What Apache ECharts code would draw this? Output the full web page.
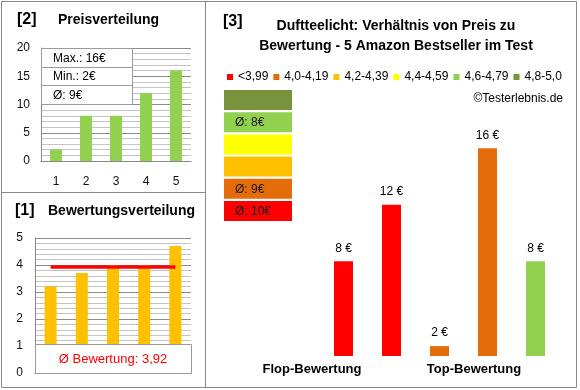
<!DOCTYPE html>
<html>
<head>
<meta charset="utf-8">
<script src="https://cdn.jsdelivr.net/npm/echarts@6/dist/echarts.min.js"></script>
<style>html,body{margin:0;padding:0;background:#fff}#c{width:580px;height:390px}</style>
</head>
<body>
<div id="c"></div>
<script>
// ---- data ----
const priceCategories = ['1', '2', '3', '4', '5'];
const priceValues = [2, 8, 8, 12, 16];
const priceTicks = [0, 5, 10, 15, 20];
const priceStats = ['Max.: 16€', 'Min.: 2€', 'Ø: 9€'];

const ratingCategories = ['1', '2', '3', '4', '5'];
const ratingValues = [3.2, 3.7, 4.0, 4.0, 4.7];
const ratingAvg = 3.92;
const ratingAvgLabel = 'Ø Bewertung: 3,92';

const classNames = ['<3,99', '4,0-4,19', '4,2-4,39', '4,4-4,59', '4,6-4,79', '4,8-5,0'];
const classColors = ['#FF0000', '#E46C0A', '#FFC000', '#FFFF00', '#92D050', '#77933C'];
const classAvgLabels = ['Ø: 10€', 'Ø: 9€', '', '', 'Ø: 8€', ''];

const groupLabels = ['Flop-Bewertung', 'Top-Bewertung'];
const slotCategories = ['F1', 'F2', 'F3', 'T1', 'T2', 'T3'];
const classSlotValues = [
  ['-', 8, 12, '-', '-', '-'],
  ['-', '-', '-', 2, 16, '-'],
  ['-', '-', '-', '-', '-', '-'],
  ['-', '-', '-', '-', '-', '-'],
  ['-', '-', '-', '-', '-', 8],
  ['-', '-', '-', '-', '-', '-']
];

const titleLines = ['Duftteelicht: Verhältnis von Preis zu', 'Bewertung - 5 Amazon Bestseller im Test'];
const copyright = '©Testerlebnis.de';

// ---- chart ----
const FONT = '"Liberation Sans", Arial, sans-serif';
const chart = echarts.init(document.getElementById('c'), null, {renderer: 'canvas'});

const graphics = [];
// panel borders
graphics.push({type: 'rect', z: 100, shape: {x: 1.5, y: 1.5, width: 575, height: 386}, style: {fill: 'none', stroke: '#888', lineWidth: 1}});
graphics.push({type: 'line', z: 100, shape: {x1: 205.5, y1: 1.5, x2: 205.5, y2: 387.5}, style: {stroke: '#888', lineWidth: 1}});
graphics.push({type: 'line', z: 100, shape: {x1: 1.5, y1: 192.5, x2: 205.5, y2: 192.5}, style: {stroke: '#888', lineWidth: 1}});

function txt(text, x, y, font, opts) {
  return Object.assign({type: 'text', z: 110, style: Object.assign({text: text, x: x, y: y, font: font, fill: '#000', textVerticalAlign: 'middle', textAlign: 'left'}, opts || {})});
}
graphics.push(txt('[2]', 17, 20, 'bold 16px ' + FONT));
graphics.push(txt('Preisverteilung', 58, 20, 'bold 14px ' + FONT));
graphics.push(txt('[1]', 15, 211, 'bold 16px ' + FONT));
graphics.push(txt('Bewertungsverteilung', 48, 211, 'bold 14px ' + FONT));
graphics.push(txt('[3]', 223, 22, 'bold 16px ' + FONT));
titleLines.forEach((t, i) => graphics.push(txt(t, 396, 26 + i * 20, 'bold 14px ' + FONT, {textAlign: 'center'})));
graphics.push(txt(copyright, 563, 99, '12px ' + FONT, {textAlign: 'right'}));

// price stats box
graphics.push({type: 'rect', z: 105, shape: {x: 41.5, y: 48.5, width: 91, height: 56}, style: {fill: '#fff', stroke: '#9a9a9a', lineWidth: 1}});
[67.5, 85.5].forEach(y => graphics.push({type: 'line', z: 106, shape: {x1: 41.5, y1: y, x2: 132.5, y2: y}, style: {stroke: '#9a9a9a', lineWidth: 1}}));
priceStats.forEach((s, i) => graphics.push(txt(s, 53, 58.5 + i * 18.5, '12px ' + FONT)));

// rating avg box
graphics.push({type: 'rect', z: 105, shape: {x: 35.5, y: 344.5, width: 156, height: 29}, style: {fill: '#fff', stroke: '#9a9a9a', lineWidth: 1}});
graphics.push(txt(ratingAvgLabel, 113, 359.5, '13px ' + FONT, {textAlign: 'center', fill: '#FF0000'}));

// class average boxes (top: best class)
for (let k = 0; k < classNames.length; k++) {
  const ci = classNames.length - 1 - k;
  const top = 90 + k * 22.2;
  graphics.push({type: 'rect', z: 105, shape: {x: 224, y: top, width: 68, height: 20}, style: {fill: classColors[ci]}});
  if (classAvgLabels[ci]) graphics.push(txt(classAvgLabels[ci], 235, top + 10.5, '12px ' + FONT, {fill: '#1a1a1a'}));
}

const classSeries = classNames.map((n, i) => ({
  name: n, type: 'bar', xAxisIndex: 2, yAxisIndex: 2, stack: 'main', barWidth: 19,
  data: classSlotValues[i], itemStyle: {color: classColors[i]},
  label: {show: true, position: 'top', distance: 7, formatter: '{c} €', fontFamily: FONT, fontSize: 12, color: '#000'}
}));

const option = {
  animation: false,
  textStyle: {fontFamily: FONT},
  legend: {
    data: classNames, left: 227, top: 71, padding: 0, itemWidth: 6, itemHeight: 6, itemGap: 5,
    icon: 'rect', textStyle: {fontFamily: FONT, fontSize: 12, color: '#000'}, selectedMode: false
  },
  grid: [
    {left: 41, top: 48, width: 150, height: 113},
    {left: 35, top: 238, width: 156, height: 135},
    {left: 271.5, top: 120, width: 288, height: 236},
    {left: 231, top: 120, width: 324, height: 236}
  ],
  xAxis: [
    {type: 'category', gridIndex: 0, data: priceCategories, axisLine: {lineStyle: {color: '#888'}}, axisTick: {show: false},
      axisLabel: {margin: 15, color: '#111', fontSize: 12, fontFamily: FONT}},
    {type: 'category', gridIndex: 1, data: ratingCategories, axisLine: {lineStyle: {color: '#888'}}, axisTick: {show: false}, axisLabel: {show: false}},
    {type: 'category', gridIndex: 2, data: slotCategories, show: false},
    {type: 'category', gridIndex: 3, data: groupLabels, axisLine: {show: false}, axisTick: {show: false},
      axisLabel: {margin: 7, color: '#000', fontSize: 13, fontWeight: 'bold', fontFamily: FONT}}
  ],
  yAxis: [
    {type: 'value', gridIndex: 0, min: priceTicks[0], max: priceTicks[priceTicks.length - 1], interval: priceTicks[1] - priceTicks[0],
      axisLine: {show: true, lineStyle: {color: '#888'}}, axisTick: {show: false},
      axisLabel: {margin: 11, color: '#111', fontSize: 12, fontFamily: FONT},
      splitLine: {lineStyle: {color: '#8c8c8c'}},
      minorTick: {show: false, splitNumber: 5}, minorSplitLine: {show: true, lineStyle: {color: '#c4c4c4'}}},
    {type: 'value', gridIndex: 1, min: 0, max: 5, interval: 1,
      axisLine: {show: true, lineStyle: {color: '#888'}}, axisTick: {show: false},
      axisLabel: {margin: 12, color: '#111', fontSize: 12, fontFamily: FONT},
      splitLine: {lineStyle: {color: '#8c8c8c'}},
      minorTick: {show: false, splitNumber: 5}, minorSplitLine: {show: true, lineStyle: {color: '#c4c4c4'}}},
    {type: 'value', gridIndex: 2, min: 1.3, max: 18, show: false, splitLine: {show: false}},
    {type: 'value', gridIndex: 3, show: false, splitLine: {show: false}}
  ],
  series: [
    {type: 'bar', xAxisIndex: 0, yAxisIndex: 0, data: priceValues, barWidth: 12, itemStyle: {color: '#92D050'}},
    {type: 'bar', xAxisIndex: 1, yAxisIndex: 1, data: ratingValues, barWidth: 12, itemStyle: {color: '#FFC000'},
      markLine: {silent: true, symbol: 'none', label: {show: false}, lineStyle: {color: '#FF0000', width: 3.5, type: 'solid'},
        data: [[{xAxis: 0, yAxis: ratingAvg}, {xAxis: ratingCategories.length - 1, yAxis: ratingAvg}]]}}
  ].concat(classSeries),
  graphic: {elements: graphics}
};
chart.setOption(option);
</script>
</body>
</html>
